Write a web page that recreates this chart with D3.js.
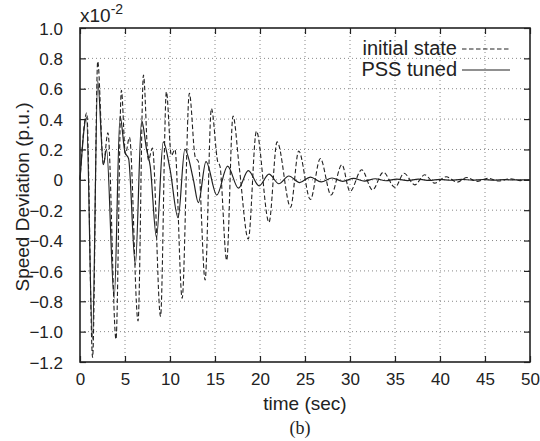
<!DOCTYPE html>
<html>
<head>
<meta charset="utf-8">
<script src="https://cdn.jsdelivr.net/npm/d3@7"></script>
<style>
  body { margin: 0; background: #fff; }
  text { font-family: "Liberation Sans", Arial, Helvetica, sans-serif; fill: #222; }
</style>
</head>
<body>
<div id="chart"></div>
<script>
// values (units of 1e-2 p.u.)
var initialT = [0, 0.75, 1.4, 1.97, 2.6, 3.1, 4.0, 4.6, 5.05, 5.5, 6.45, 7.05, 7.6, 8.05, 8.95, 9.6, 10.15, 10.55, 11.35, 12.15, 12.8, 13.15, 13.9, 14.6, 15.3, 15.55, 16.3, 17.0, 17.7, 18.7, 19.6, 21.0, 21.9, 23.4, 24.3, 25.6, 26.7, 27.9, 29.1, 30.0, 31.3, 32.5, 33.7, 35.0, 36.0, 37.2, 38.3, 39.4, 40.7, 41.9, 43.0, 44.1, 45.4, 46.5, 47.8, 48.9, 50];
var initialV = [0, 0.44, -1.17, 0.78, 0.10, 0.31, -1.05, 0.59, 0.17, 0.28, -0.93, 0.69, 0.13, 0.21, -0.90, 0.58, 0.16, 0.20, -0.78, 0.57, 0.15, 0.12, -0.66, 0.47, 0.12, 0.09, -0.53, 0.42, 0.08, -0.39, 0.32, -0.28, 0.25, -0.18, 0.19, -0.13, 0.14, -0.10, 0.10, -0.077, 0.066, -0.066, 0.05, -0.05, 0.043, -0.033, 0.033, -0.022, 0.02, -0.015, 0.015, -0.01, 0.01, -0.008, 0.007, -0.005, 0];

var tunedT = [0, 0.72, 1.38, 1.97, 2.6, 2.95, 3.8, 4.45, 5.0, 5.4, 6.15, 6.85, 7.4, 7.8, 8.5, 9.25, 10.0, 10.9, 11.65, 12.6, 13.15, 14.0, 15.2, 16.4, 17.6, 18.7, 19.9, 21.0, 22.1, 23.2, 24.4, 25.6, 26.8, 28.0, 29.2, 30.4, 31.6, 32.8, 34.0, 35.2, 36.4, 37.6, 38.8, 40.0, 41.2, 42.4, 43.6, 44.8, 46.0, 47.2, 48.4, 50];
var tunedV = [0, 0.41, -1.05, 0.65, 0.10, 0.20, -0.78, 0.42, 0.18, 0.14, -0.56, 0.39, 0.20, 0.09, -0.38, 0.25, 0.07, -0.25, 0.20, 0.0, -0.15, 0.12, -0.10, 0.09, -0.055, 0.06, -0.04, 0.037, -0.026, 0.025, -0.018, 0.018, -0.014, 0.012, -0.01, 0.009, -0.008, 0.007, -0.006, 0.005, -0.005, 0.004, -0.004, 0.003, -0.003, 0.003, -0.002, 0.002, -0.002, 0.001, -0.001, 0];

var xTicks = [0, 5, 10, 15, 20, 25, 30, 35, 40, 45, 50];
var yTicks = [1.0, 0.8, 0.6, 0.4, 0.2, 0, -0.2, -0.4, -0.6, -0.8, -1.0, -1.2];
var seriesNames = ["initial state", "PSS tuned"];

var svgWidth = 540, svgHeight = 441;
var margin = { top: 28, right: 10, bottom: 79, left: 80 };
var width = svgWidth - margin.left - margin.right;
var height = svgHeight - margin.top - margin.bottom;

var svg = d3.select("#chart").append("svg")
  .attr("width", svgWidth)
  .attr("height", svgHeight);

var chartGroup = svg.append("g")
  .attr("transform", `translate(${margin.left}, ${margin.top})`);

var xScale = d3.scaleLinear().domain([0, 50]).range([0, width]);
var yScale = d3.scaleLinear().domain([-1.2, 1.0]).range([height, 0]);

// dotted grid
chartGroup.append("g").selectAll("line.vg")
  .data(xTicks.slice(1, -1)).enter().append("line")
  .attr("x1", d => xScale(d)).attr("x2", d => xScale(d))
  .attr("y1", 0).attr("y2", height)
  .attr("stroke", "#888").attr("stroke-width", 1).attr("stroke-dasharray", "1,3");
chartGroup.append("g").selectAll("line.hg")
  .data(yTicks.slice(1, -1)).enter().append("line")
  .attr("y1", d => yScale(d)).attr("y2", d => yScale(d))
  .attr("x1", 0).attr("x2", width)
  .attr("stroke", "#888").attr("stroke-width", 1).attr("stroke-dasharray", "1,3");

var yFmt = d => d === 0 ? "0" : d3.format(".1f")(d);

var bottomAxis = d3.axisBottom(xScale).tickValues(xTicks).tickSizeInner(-6).tickSizeOuter(0).tickPadding(11);
var leftAxis = d3.axisLeft(yScale).tickValues(yTicks).tickFormat(yFmt).tickSizeInner(-6).tickSizeOuter(0).tickPadding(17);
var topAxis = d3.axisTop(xScale).tickValues(xTicks).tickSizeInner(-6).tickSizeOuter(0).tickFormat("");
var rightAxis = d3.axisRight(yScale).tickValues(yTicks).tickSizeInner(-6).tickSizeOuter(0).tickFormat("");

function styleAxis(g) {
  g.select(".domain").remove();
  g.selectAll(".tick line").attr("stroke", "#222").attr("stroke-width", 1.2);
  g.selectAll(".tick text").style("font-size", "17px").attr("fill", "#222");
}

chartGroup.append("g").attr("transform", `translate(0, ${height})`).call(bottomAxis).call(styleAxis);
chartGroup.append("g").call(leftAxis).call(styleAxis)
  .selectAll(".tick text").attr("dy", "0.36em");
chartGroup.append("g").call(topAxis).call(styleAxis);
chartGroup.append("g").attr("transform", `translate(${width}, 0)`).call(rightAxis).call(styleAxis);

// frame
chartGroup.append("rect")
  .attr("width", width).attr("height", height)
  .attr("fill", "none").attr("stroke", "#222").attr("stroke-width", 1.6);

var initialData = initialT.map((t, i) => ({ t: t, v: initialV[i] }));
var tunedData = tunedT.map((t, i) => ({ t: t, v: tunedV[i] }));

var line = d3.line()
  .x(d => xScale(d.t))
  .y(d => yScale(d.v))
  .curve(d3.curveMonotoneX);

chartGroup.append("path").datum(initialData)
  .attr("d", line).attr("fill", "none")
  .attr("stroke", "#222").attr("stroke-width", 1.1).attr("stroke-dasharray", "4.5,2.5");

chartGroup.append("path").datum(tunedData)
  .attr("d", line).attr("fill", "none")
  .attr("stroke", "#222").attr("stroke-width", 1.2);

// legend
var legend = chartGroup.append("g").attr("transform", `translate(${width - 73}, 20)`);
seriesNames.forEach(function(name, i) {
  legend.append("text")
    .attr("x", 0).attr("y", i * 21).attr("dy", "0.35em")
    .attr("text-anchor", "end")
    .style("font-size", "20px")
    .text(name);
  legend.append("line")
    .attr("x1", 5).attr("x2", 53).attr("y1", i * 21 + 1).attr("y2", i * 21 + 1)
    .attr("stroke", "#222").attr("stroke-width", 1.1)
    .attr("stroke-dasharray", i === 0 ? "4.5,2.5" : null);
});

// multiplier
var mult = svg.append("text").attr("x", 80).attr("y", 22).style("font-size", "19px");
mult.append("tspan").text("x10");
mult.append("tspan").attr("dy", -8).style("font-size", "14px").text("-2");

// axis titles
svg.append("text")
  .attr("x", margin.left + width / 2).attr("y", 410)
  .attr("text-anchor", "middle").style("font-size", "19px")
  .text("time (sec)");

svg.append("text")
  .attr("transform", "rotate(-90)")
  .attr("x", -197).attr("y", 29)
  .attr("text-anchor", "middle").style("font-size", "19px")
  .text("Speed Deviation (p.u.)");

svg.append("text")
  .attr("x", margin.left + width / 2 - 5).attr("y", 434)
  .attr("text-anchor", "middle")
  .style("font-family", "'Liberation Serif', 'Times New Roman', serif")
  .style("font-size", "18px")
  .text("(b)");
</script>
</body>
</html>
